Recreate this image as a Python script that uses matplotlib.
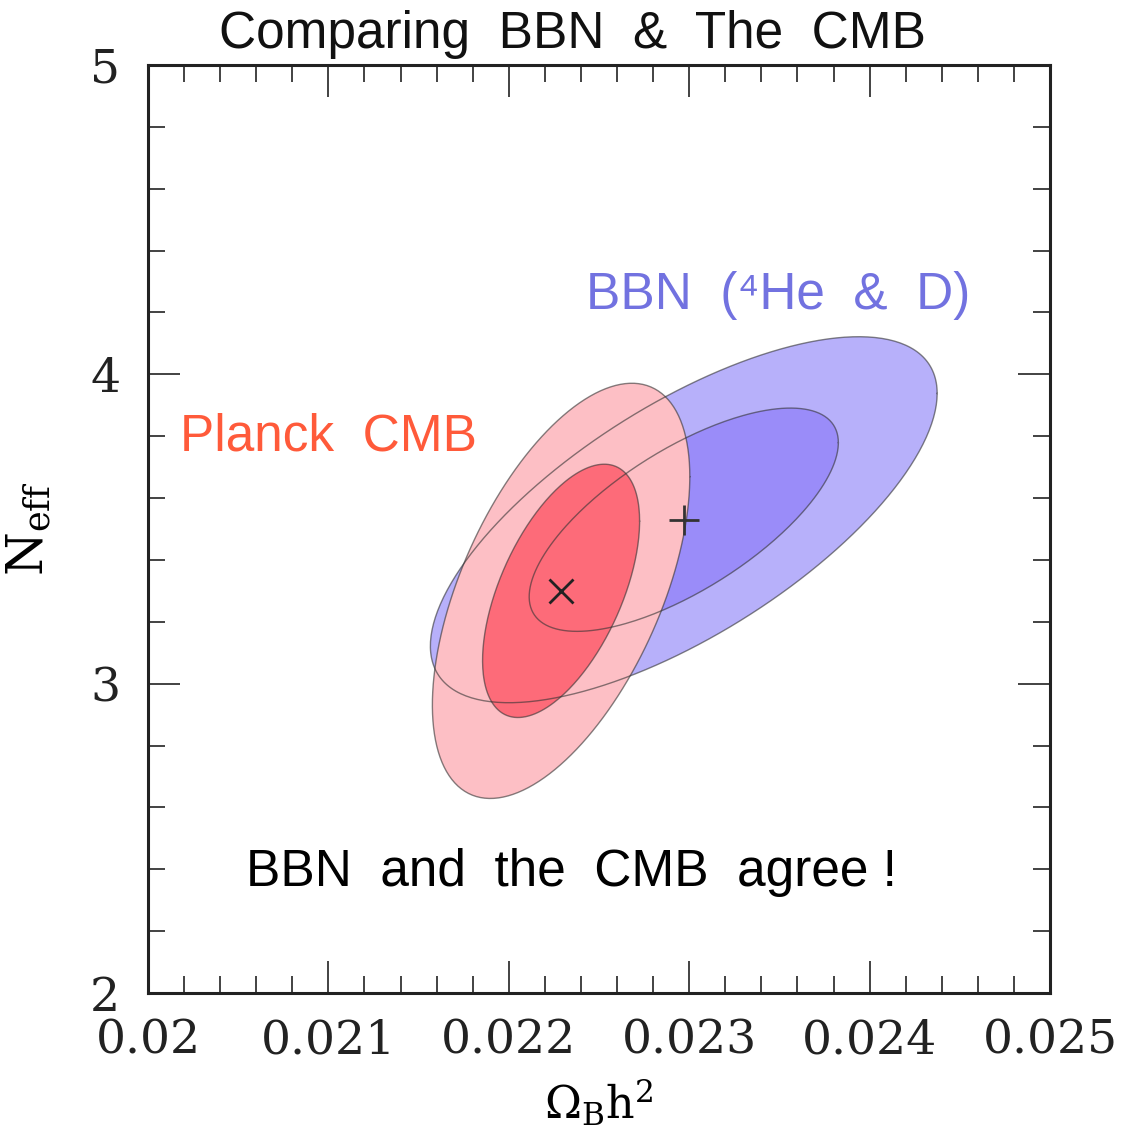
import matplotlib
matplotlib.use("Agg")
import matplotlib.pyplot as plt
import numpy as np
from matplotlib.ticker import MultipleLocator

plt.rcParams['mathtext.fontset'] = 'dejavuserif'

# Gaussian contours: centre, sigmas, correlation
planck_center = (0.02229, 3.30)
planck_sigma = (0.000287, 0.270)
planck_rho = 0.55

bbn_center = (0.02297, 3.53)
bbn_sigma = (0.000565, 0.238)
bbn_rho = 0.69

# delta chi^2 for 68% and 95% (2 d.o.f.)
levels = [2.30, 6.18]

planck_colors = ['#fd6b79', '#fdbfc5']   # inner, outer
bbn_colors = ['#9a8cf9', '#b7b0fa']

xlim = (0.020, 0.025)
ylim = (2.0, 5.0)
xticks = [0.020, 0.021, 0.022, 0.023, 0.024, 0.025]
xticklabels = ['0.02', '0.021', '0.022', '0.023', '0.024', '0.025']
yticks = [2, 3, 4, 5]


def contour(center, sigma, rho, dchi2, n=300):
    t = np.linspace(0, 2 * np.pi, n)
    cov = np.array([[sigma[0] ** 2, rho * sigma[0] * sigma[1]],
                    [rho * sigma[0] * sigma[1], sigma[1] ** 2]])
    L = np.linalg.cholesky(cov)
    circ = np.vstack([np.cos(t), np.sin(t)]) * np.sqrt(dchi2)
    pts = L @ circ
    return center[0] + pts[0], center[1] + pts[1]


fig = plt.figure(figsize=(11.26, 11.29), dpi=100)
ax = fig.add_axes([0.1314, 0.1205, 0.8011, 0.8219])

line_kw = dict(color='#333333', lw=1.0, alpha=0.6)

# BBN fills
bx2, by2 = contour(bbn_center, bbn_sigma, bbn_rho, levels[1])
bx1, by1 = contour(bbn_center, bbn_sigma, bbn_rho, levels[0])
ax.fill(bx2, by2, color=bbn_colors[1], lw=0, zorder=1)
ax.fill(bx1, by1, color=bbn_colors[0], lw=0, zorder=1.1)

# Planck fills (opaque, on top)
px2, py2 = contour(planck_center, planck_sigma, planck_rho, levels[1])
px1, py1 = contour(planck_center, planck_sigma, planck_rho, levels[0])
ax.fill(px2, py2, color=planck_colors[1], lw=0, zorder=2)
ax.fill(px1, py1, color=planck_colors[0], lw=0, zorder=2.1)

# outlines drawn over everything
for xs, ys in [(bx2, by2), (bx1, by1), (px2, py2), (px1, py1)]:
    ax.plot(xs, ys, zorder=3, **line_kw)

# best fit points
ax.plot(*planck_center, marker='x', ms=17, mew=2.0, color='#222222', zorder=4)
ax.plot(*bbn_center, marker='+', ms=22, mew=2.0, color='#333333', zorder=4)

ax.set_xlim(*xlim)
ax.set_ylim(*ylim)
ax.set_xticks(xticks)
ax.set_xticklabels(xticklabels)
ax.set_yticks(yticks)
ax.xaxis.set_minor_locator(MultipleLocator(0.0002))
ax.yaxis.set_minor_locator(MultipleLocator(0.2))

ax.tick_params(which='both', direction='in', top=True, right=True,
               width=1.2, color='#222222')
ax.tick_params(which='major', length=23)
ax.tick_params(which='minor', length=12)
ax.tick_params(axis='x', which='major', pad=18)
ax.tick_params(axis='y', which='major', pad=20)
for lab in ax.get_xticklabels() + ax.get_yticklabels():
    lab.set_family('DejaVu Serif')
    lab.set_fontsize(34)
    lab.set_color('#222222')
for s in ax.spines.values():
    s.set_linewidth(2.2)
    s.set_color('#222222')

ax.set_xlabel(r'$\mathrm{\Omega_B h^2}$', fontsize=32, labelpad=10)
ax.set_ylabel(r'$\mathrm{N_{eff}}$', fontsize=36, labelpad=26)

sans = ['Liberation Sans', 'DejaVu Sans']
ax.set_title('Comparing  BBN  &  The  CMB', fontsize=37, family=sans,
             pad=12, color='#111111', x=0.471)

ax.text(0.024556, 4.256, 'BBN  (\u2074He  &  D)', fontsize=37, family=sans,
        color='#7272e0', ha='right', va='center')
ax.text(0.02018, 3.797, 'Planck  CMB', fontsize=37, family=sans,
        color='#ff5a3a', ha='left', va='center')
ax.text(0.022345, 2.388, 'BBN  and  the  CMB  agree !', fontsize=37, family=sans,
        color='black', ha='center', va='center')

fig.savefig('out.png', dpi=100)
